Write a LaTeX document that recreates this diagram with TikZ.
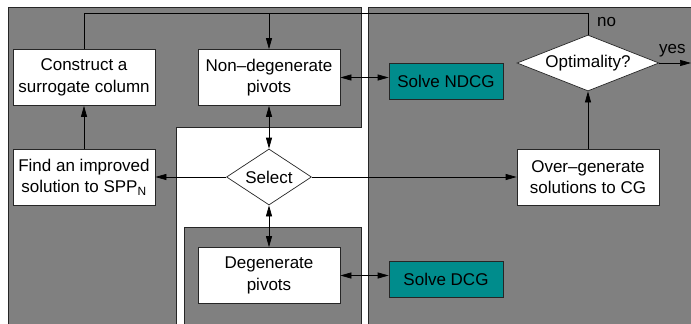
\documentclass[tikz,border=0pt]{standalone}
\usepackage{fontspec}
\setmainfont{Liberation Sans}
\usetikzlibrary{shapes.geometric,arrows.meta}
\definecolor{panel}{RGB}{128,128,128}
\definecolor{solver}{RGB}{0,140,140}
\begin{document}
\begin{tikzpicture}[x=1pt,y=-1pt,
  font=\fontsize{17}{21.5}\selectfont,
  panelbox/.style={draw=black!85,fill=panel,line width=0.8pt},
  stepbox/.style={draw=black!85,fill=white,line width=0.7pt,align=center,
    inner sep=0pt,minimum width=142pt,minimum height=56pt},
  solvebox/.style={draw=black!85,fill=solver,line width=0.7pt,align=center,
    inner sep=0pt,minimum width=114pt,minimum height=36pt},
  choice/.style={draw=black!85,fill=white,line width=0.7pt,diamond,
    inner sep=0pt,align=center},
  conn/.style={line width=0.7pt},
  arr/.style={conn,-{Triangle[length=11pt,width=6pt]}},
  darr/.style={conn,{Triangle[length=11pt,width=6pt]}-{Triangle[length=11pt,width=6pt]}}]
\clip (0,0) rectangle (691,324);
\fill[white] (0,0) rectangle (691,324);

% background panels
\draw[panelbox] (8,7) -- (361,7) -- (361,127) -- (176,127) -- (176,340) -- (8,340) -- cycle;
\draw[panelbox] (184,227) rectangle (361,340);
\draw[panelbox] (368,7) rectangle (700,340);

% process steps
\node[stepbox] (cons) at (84,77.5) {Construct a\\surrogate column};
\node[stepbox] (nd) at (269,77.5) {Non--degenerate\\pivots};
\node[stepbox] (find) at (84,177) {Find an improved\\solution to SPP\textsubscript{N}};
\node[stepbox] (deg) at (269,275.5) {Degenerate\\pivots};
\node[stepbox] (over) at (588,177) {Over--generate\\solutions to CG};
\node[solvebox] (ndcg) at (446,81) {Solve NDCG};
\node[solvebox] (dcg) at (446,279.5) {Solve DCG};
\node[choice,shape aspect=1.52,minimum width=85pt,minimum height=56pt] (sel) at (269,177) {Select};
\node[choice,shape aspect=2.54,minimum width=142pt,minimum height=56pt] (opt) at (588,63) {Optimality?};

% connectors
\coordinate (loopR) at (588,13);
\coordinate (exit) at (691,63);
\draw[arr] (sel.west) -- (find.east);
\draw[arr] (sel.east) -- (over.west);
\draw[darr] (nd.south) -- (sel.north);
\draw[darr] (sel.south) -- (deg.north);
\draw[darr] (nd.east) -- (nd.east -| ndcg.west);
\draw[darr] (deg.east) -- (deg.east -| dcg.west);
\draw[arr] (find.north) -- (cons.south);
\draw[arr] (over.north) -- (opt.south);
\draw[conn] (cons.north) -- (cons.north |- loopR) -- (loopR) -- (opt.north);
\draw[arr] (nd.north |- loopR) -- (nd.north);
\draw[arr] (opt.east) -- (exit);

% decision labels
\node[anchor=west,inner sep=0pt] (nolbl) at (597,22) {no};
\node[anchor=west,inner sep=0pt] (yeslbl) at (659,51) {yes};
\end{tikzpicture}
\end{document}
